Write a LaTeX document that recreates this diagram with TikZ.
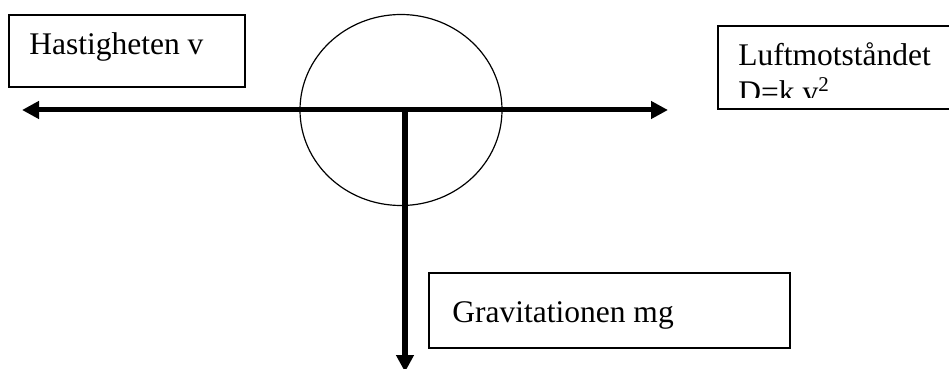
\documentclass[tikz,border=0pt]{standalone}
\usepackage{fontspec}
\setmainfont{Liberation Serif}
\usetikzlibrary{arrows.meta, shapes.geometric}
\tikzset{
  every picture/.style={x=0.5pt, y=-0.5pt, font=\fontsize{15.75}{19}\selectfont},
  >={Triangle[length=8.5pt, width=8.5pt]},
  force/.style={line width=2.5pt},
  textbox/.style={draw, line width=0.9pt, anchor=north west, inner sep=0pt},
  label/.style={anchor=base west, inner sep=0pt},
}

\begin{document}
\begin{tikzpicture}
  \clip (0,0) rectangle (949,369);
  % the body
  \node[ellipse, draw, line width=0.6pt, minimum width=101pt, minimum height=95.5pt, inner sep=0pt] (ball) at (401,110) {};
  % text boxes
  \node[textbox, minimum width=118pt, minimum height=36pt] (vbox) at (8,14) {};
  \node[label] (vtext) at (29,55) {Hastigheten v};
  \node[textbox, minimum width=125pt, minimum height=41.5pt] (dbox) at (717,25) {};
  \node[label] (dtext) at (738,66) {Luftmotståndet};
  \begin{scope}
    \clip (717,25) rectangle (949,98);
    \node[label] (dform) at (738,103) {D=k v\raisebox{0.36em}{\fontsize{10.5}{12}\selectfont 2}};
  \end{scope}
  \node[textbox, minimum width=180.5pt, minimum height=37.5pt] (gbox) at (428,272) {};
  \node[label] (gtext) at (452,322) {Gravitationen mg};
  % forces
  \coordinate (vl) at (22,110);
  \coordinate (vr) at (668,110);
  \coordinate (mid) at (405,108);
  \coordinate (gbot) at (405,372);
  \draw[force, <->] (vl) -- (vr);
  \draw[force, ->, line width=3pt] (mid) -- (gbot);
\end{tikzpicture}
\end{document}
